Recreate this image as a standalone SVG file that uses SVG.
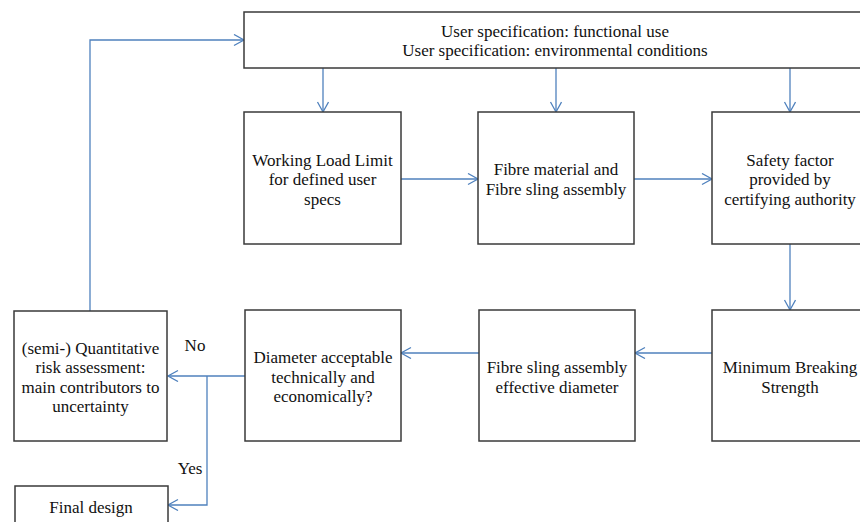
<svg xmlns="http://www.w3.org/2000/svg" width="860" height="522" viewBox="0 0 860 522">
<style>
.box{fill:#fff;stroke:#3a3a3a;stroke-width:1.5}
.t{font-size:17px;fill:#111;text-anchor:middle}
.c{fill:none;stroke:#4f81bd;stroke-width:1.3}
</style>
<defs>
<marker id="a" markerUnits="userSpaceOnUse" markerWidth="14" markerHeight="14" refX="11" refY="6" orient="auto">
<path d="M1,0.5 L11,6 L1,11.5" fill="none" stroke="#4f81bd" stroke-width="1.3"/>
</marker>
</defs>
<rect width="860" height="522" fill="#fff"/>
<g font-family="Liberation Serif, Times New Roman, DejaVu Serif, serif">
<g id="connectors">
<line class="c" x1="323" y1="68" x2="323" y2="112" marker-end="url(#a)"/>
<line class="c" x1="556" y1="68" x2="556" y2="112" marker-end="url(#a)"/>
<line class="c" x1="790" y1="68" x2="790" y2="112" marker-end="url(#a)"/>
<line class="c" x1="401" y1="179" x2="478" y2="179" marker-end="url(#a)"/>
<line class="c" x1="634" y1="179" x2="712" y2="179" marker-end="url(#a)"/>
<line class="c" x1="790" y1="244" x2="790" y2="310" marker-end="url(#a)"/>
<line class="c" x1="712" y1="353" x2="635" y2="353" marker-end="url(#a)"/>
<line class="c" x1="479" y1="353" x2="401" y2="353" marker-end="url(#a)"/>
<line class="c" x1="245" y1="376" x2="168" y2="376" marker-end="url(#a)"/>
<polyline class="c" points="207,376 207,505 168,505" marker-end="url(#a)"/>
<polyline class="c" points="90,311 90,40 244,40" marker-end="url(#a)"/>
<text class="t" x="195" y="351">No</text>
<text class="t" x="190" y="474">Yes</text>
</g>
<g id="user-spec">
<rect class="box" x="244" y="12" width="624" height="56"/>
<text class="t" x="555" y="36.5">User specification: functional use</text>
<text class="t" x="555" y="55.5">User specification: environmental conditions</text>
</g>
<g id="wll">
<rect class="box" x="244" y="112" width="157" height="132"/>
<text class="t" x="322.5" y="165.5">Working Load Limit</text>
<text class="t" x="322.5" y="185">for defined user</text>
<text class="t" x="322.5" y="204.5">specs</text>
</g>
<g id="fibre-material">
<rect class="box" x="478" y="112" width="156" height="132"/>
<text class="t" x="556" y="175">Fibre material and</text>
<text class="t" x="556" y="194.5">Fibre sling assembly</text>
</g>
<g id="safety-factor">
<rect class="box" x="712" y="112" width="156" height="132"/>
<text class="t" x="790" y="165.5">Safety factor</text>
<text class="t" x="790" y="185">provided by</text>
<text class="t" x="790" y="204.5">certifying authority</text>
</g>
<g id="mbs">
<rect class="box" x="712" y="310" width="156" height="131"/>
<text class="t" x="790" y="373">Minimum Breaking</text>
<text class="t" x="790" y="392.5">Strength</text>
</g>
<g id="effective-diameter">
<rect class="box" x="479" y="310" width="156" height="131"/>
<text class="t" x="557" y="373">Fibre sling assembly</text>
<text class="t" x="557" y="392.5">effective diameter</text>
</g>
<g id="diameter-acceptable">
<rect class="box" x="245" y="310" width="156" height="131"/>
<text class="t" x="323" y="363">Diameter acceptable</text>
<text class="t" x="323" y="382.5">technically and</text>
<text class="t" x="323" y="402">economically?</text>
</g>
<g id="risk-assessment">
<rect class="box" x="14" y="311" width="153" height="130"/>
<text class="t" x="90.5" y="353.5">(semi-) Quantitative</text>
<text class="t" x="90.5" y="373">risk assessment:</text>
<text class="t" x="90.5" y="392.5">main contributors to</text>
<text class="t" x="90.5" y="412">uncertainty</text>
</g>
<g id="final-design">
<rect class="box" x="15" y="486" width="153" height="50"/>
<text class="t" x="91" y="512.5">Final design</text>
</g>
</g>
</svg>
